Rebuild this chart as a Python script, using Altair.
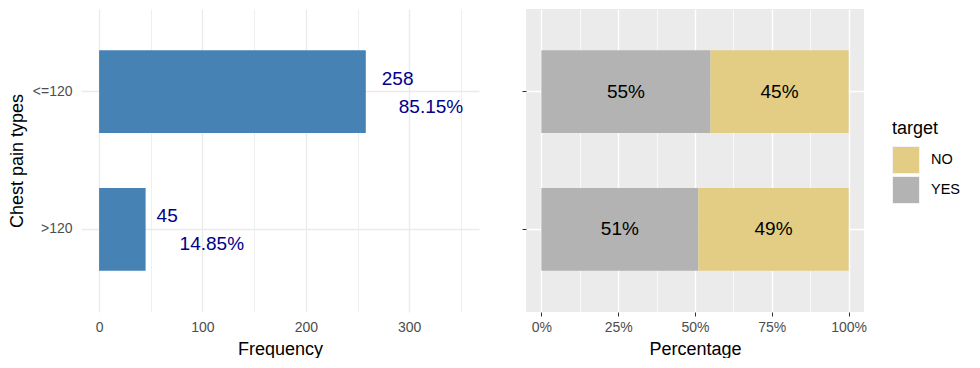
import altair as alt
import pandas as pd

# ---- data ----
categories = ["<=120", ">120"]
counts = [258, 45]
pct_labels = ["85.15%", "14.85%"]
yes_counts = [142, 23]
no_counts = [116, 22]
left_ticks = [0, 50, 100, 150, 200, 250, 300, 350]
right_ticks = [0, 0.125, 0.25, 0.375, 0.5, 0.625, 0.75, 0.875, 1.0]

FONT = "Liberation Sans"
BLUE = "#4682B4"
NAVY = "#00008B"
GREY_BAR = "#B3B3B3"
YELLOW = "#E3CD84"

left_df = pd.DataFrame({"cat": categories, "n": counts, "pct": pct_labels})
right_df = pd.DataFrame({
    "cat": categories * 2,
    "target": ["YES"] * 2 + ["NO"] * 2,
    "n": yes_counts + no_counts,
})

# ---- left panel ----
yscale_l = alt.Scale(domain=categories, paddingInner=0.4, paddingOuter=0.3)
xscale_l = alt.Scale(domain=[-17.5, 367.5], nice=False, zero=False)

x_axis_l = alt.Axis(
    values=left_ticks,
    labelExpr="datum.value % 100 == 0 ? datum.label : ''",
    title="Frequency", titleFont=FONT, titleFontSize=18, titleFontWeight="normal",
    titleColor="black", titlePadding=6,
    labelFont=FONT, labelFontSize=14, labelColor="#4D4D4D", labelPadding=8,
    ticks=False, domain=False, grid=True, gridColor="#EBEBEB",
    gridWidth={"condition": {"test": "datum.value % 100 == 0", "value": 1.4}, "value": 0.8},
)
y_axis_l = alt.Axis(
    title="Chest pain types", titleFont=FONT, titleFontSize=18, titleFontWeight="normal",
    titleColor="black", titlePadding=6,
    labelFont=FONT, labelFontSize=14, labelColor="#4D4D4D", labelPadding=9,
    ticks=False, domain=False, grid=True, gridColor="#EBEBEB", gridWidth=1.4,
    bandPosition=0.5,
)

base_l = alt.Chart(left_df)
bars_l = base_l.mark_bar(color=BLUE).encode(
    x=alt.X("n:Q", scale=xscale_l, axis=x_axis_l),
    x2=alt.datum(0),
    y=alt.Y("cat:N", scale=yscale_l, sort=categories, axis=y_axis_l),
)

count_dx = {"<=120": 16, ">120": 11}
pct_dx = {"<=120": 33, ">120": 34}
text_layers = []
for c in categories:
    text_layers.append(
        base_l.transform_filter(alt.datum.cat == c).mark_text(
            align="left", baseline="middle", dx=count_dx[c], dy=-13,
            font=FONT, fontSize=19, color=NAVY,
        ).encode(
            x=alt.X("n:Q", scale=xscale_l),
            y=alt.Y("cat:N", scale=yscale_l, sort=categories),
            text="n:Q",
        )
    )
    text_layers.append(
        base_l.transform_filter(alt.datum.cat == c).mark_text(
            align="left", baseline="middle", dx=pct_dx[c], dy=15,
            font=FONT, fontSize=19, color=NAVY,
        ).encode(
            x=alt.X("n:Q", scale=xscale_l),
            y=alt.Y("cat:N", scale=yscale_l, sort=categories),
            text="pct:N",
        )
    )

left = alt.layer(bars_l, *text_layers).properties(
    width=398, height=303, view=alt.ViewBackground(stroke=None)
)

# ---- right panel ----
major_test = "(datum.value * 100) % 25 == 0"
x_axis_r = alt.Axis(
    values=right_ticks, format=".0%",
    labelExpr=f"{major_test} ? datum.label : ''",
    title="Percentage", titleFont=FONT, titleFontSize=18, titleFontWeight="normal",
    titleColor="black", titlePadding=6,
    labelFont=FONT, labelFontSize=14, labelColor="#4D4D4D", labelPadding=4,
    ticks=True, tickSize=4, tickWidth=1,
    tickColor={"condition": {"test": major_test, "value": "#333333"}, "value": "transparent"},
    domain=False, grid=True, gridColor="white",
    gridWidth={"condition": {"test": major_test, "value": 1.4}, "value": 0.7},
)
yscale_r = alt.Scale(domain=categories, paddingInner=0.4, paddingOuter=0.3)
xscale_r = alt.Scale(domain=[-0.05, 1.05], nice=False, zero=False)
y_axis_r = alt.Axis(
    title=None, labels=False, ticks=True, tickSize=4, tickColor="#333333", tickWidth=1,
    domain=False, grid=True, gridColor="white", gridWidth=1.4, bandPosition=0.5,
)

base_r = alt.Chart(right_df).transform_joinaggregate(
    total="sum(n)", groupby=["cat"]
).transform_calculate(
    frac="datum.n / datum.total",
    ord="datum.target == 'YES' ? 0 : 1",
).transform_stack(
    stack="frac", groupby=["cat"], as_=["x0", "x1"], sort=[alt.SortField("ord")]
).transform_calculate(
    mid="(datum.x0 + datum.x1) / 2",
    label="format(datum.frac, '.0%')",
)

bars_r = base_r.mark_bar().encode(
    x=alt.X("x0:Q", scale=xscale_r, axis=x_axis_r),
    x2="x1:Q",
    y=alt.Y("cat:N", scale=yscale_r, sort=categories, axis=y_axis_r),
    color=alt.Color(
        "target:N",
        scale=alt.Scale(domain=["NO", "YES"], range=[YELLOW, GREY_BAR]),
        legend=alt.Legend(
            title="target", titleFont=FONT, titleFontSize=18, titleFontWeight="normal",
            titleColor="black", titlePadding=8,
            labelFont=FONT, labelFontSize=14.5, labelColor="black", labelOffset=11,
            symbolType="square", symbolSize=729, symbolStrokeColor="#F2F2F2",
            symbolStrokeWidth=1, symbolOpacity=1, rowPadding=-3,
            orient="none", legendX=811, legendY=111,
        ),
    ),
)
text_r = base_r.mark_text(font=FONT, fontSize=19, color="black", baseline="middle").encode(
    x=alt.X("mid:Q", scale=xscale_r),
    y=alt.Y("cat:N", scale=yscale_r, sort=categories),
    text="label:N",
)

right = alt.layer(bars_r, text_r).properties(
    width=338, height=303, view=alt.ViewBackground(fill="#EBEBEB", stroke=None)
)

chart = alt.hconcat(left, right, spacing=42).properties(
    padding={"left": 0, "top": 1, "right": 0, "bottom": 0}
).configure(font=FONT)

chart.save("out.html", embed_options={"renderer": "svg", "actions": False})
